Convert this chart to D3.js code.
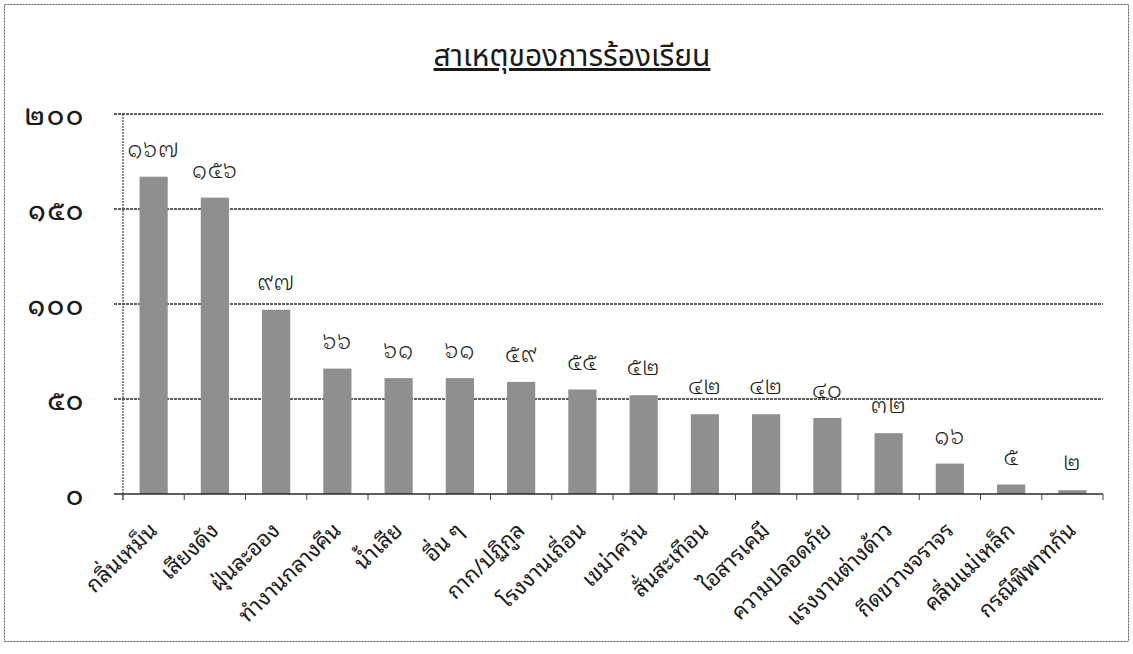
<!DOCTYPE html>
<html>
<head>
<meta charset="utf-8">
<script src="https://cdn.jsdelivr.net/npm/d3@7"></script>
<style>
  body { margin: 0; background: #fff; }
  svg text { font-family: "Noto Sans Thai Looped", "Noto Sans Thai", sans-serif; fill: #1a1a1a; }
  svg text.title { font-family: "Noto Sans Thai", sans-serif; }
</style>
</head>
<body>
<svg id="chart" width="1133" height="654"></svg>
<script>
const title = 'สาเหตุของการร้องเรียน'
const categories = ['กลิ่นเหม็น', 'เสียงดัง', 'ฝุ่นละออง', 'ทำงานกลางคืน', 'น้ำเสีย', 'อื่น ๆ', 'กาก/ปฏิกูล', 'โรงงานเถื่อน',
  'เขม่าควัน', 'สั่นสะเทือน', 'ไอสารเคมี', 'ความปลอดภัย', 'แรงงานต่างด้าว', 'กีดขวางจราจร', 'คลื่นแม่เหล็ก', 'กรณีพิพาทกัน']
const values = [167, 156, 97, 66, 61, 61, 59, 55, 52, 42, 42, 40, 32, 16, 5, 2]
const yTicks = [0, 50, 100, 150, 200]

// arabic digits -> thai digits
const thaiNum = (n) => String(n).replace(/[0-9]/g, (d) => String.fromCharCode(0x0E50 + Number(d)))

const svg = d3.select('#chart')
const margin = { left: 123, right: 30, top: 114, bottom: 160 }
const w = 1133 - margin.left - margin.right
const h = 654 - margin.top - margin.bottom

// outer frame
svg.append('rect')
  .attr('x', 4.5).attr('y', 4.5).attr('width', 1124).attr('height', 637)
  .attr('fill', 'none').attr('stroke', '#555').attr('stroke-width', 1)
  .attr('stroke-dasharray', '2,1')

svg.append('text')
  .attr('class', 'title')
  .attr('x', 572).attr('y', 66)
  .attr('text-anchor', 'middle')
  .attr('font-size', 30)
  .attr('text-decoration', 'underline')
  .text(title)

const g = svg.append('g').attr('transform', `translate(${margin.left},${margin.top})`)

const x = d3.scaleBand().domain(categories).range([0, w]).paddingInner(0.54).paddingOuter(0.27)
const y = d3.scaleLinear().domain([0, 200]).range([h, 0])

// grid lines
g.append('g').selectAll('line').data(yTicks.filter(d => d > 0)).join('line')
  .attr('x1', -9).attr('x2', w)
  .attr('y1', d => y(d)).attr('y2', d => y(d))
  .attr('stroke', '#2a2a2a').attr('stroke-width', 1.4)
  .attr('stroke-dasharray', '3,1')

// y axis line + tick labels
g.append('line').attr('x1', 0).attr('x2', 0).attr('y1', 0).attr('y2', h + 6)
  .attr('stroke', '#444').attr('stroke-width', 1.2).attr('stroke-dasharray', '2,1')
g.append('g').selectAll('text').data(yTicks).join('text')
  .attr('x', -38).attr('y', d => y(d) + 2)
  .attr('dy', '0.35em')
  .attr('text-anchor', 'end')
  .attr('font-size', 26)
  .attr('font-weight', 500)
  .attr('letter-spacing', 2)
  .text(d => thaiNum(d))

// bars
g.append('g').selectAll('rect').data(values).join('rect')
  .attr('x', (d, i) => x(categories[i]))
  .attr('y', d => y(d))
  .attr('width', x.bandwidth())
  .attr('height', d => h - y(d))
  .attr('fill', '#8f8f8f')

// value labels
g.append('g').selectAll('text').data(values).join('text')
  .attr('x', (d, i) => x(categories[i]) + x.bandwidth() / 2)
  .attr('y', d => y(d) - 20)
  .attr('text-anchor', 'middle')
  .attr('font-size', 23)
  .attr('font-weight', 350)
  .attr('letter-spacing', 1)
  .text(d => thaiNum(d))

// x axis line and ticks
g.append('line').attr('x1', -9).attr('x2', w).attr('y1', h).attr('y2', h)
  .attr('stroke', '#2a2a2a').attr('stroke-width', 1.4)
const step = x.step()
g.append('g').selectAll('line').data(d3.range(categories.length + 1)).join('line')
  .attr('x1', i => i * step).attr('x2', i => i * step)
  .attr('y1', h).attr('y2', h + 6)
  .attr('stroke', '#444').attr('stroke-width', 1)

// category labels
g.append('g').selectAll('text').data(categories).join('text')
  .attr('transform', d => `translate(${x(d) + x.bandwidth() / 2 + 5},${h + 38}) rotate(-44)`)
  .attr('text-anchor', 'end')
  .attr('font-size', 22)
  .text(d => d)
</script>
</body>
</html>
